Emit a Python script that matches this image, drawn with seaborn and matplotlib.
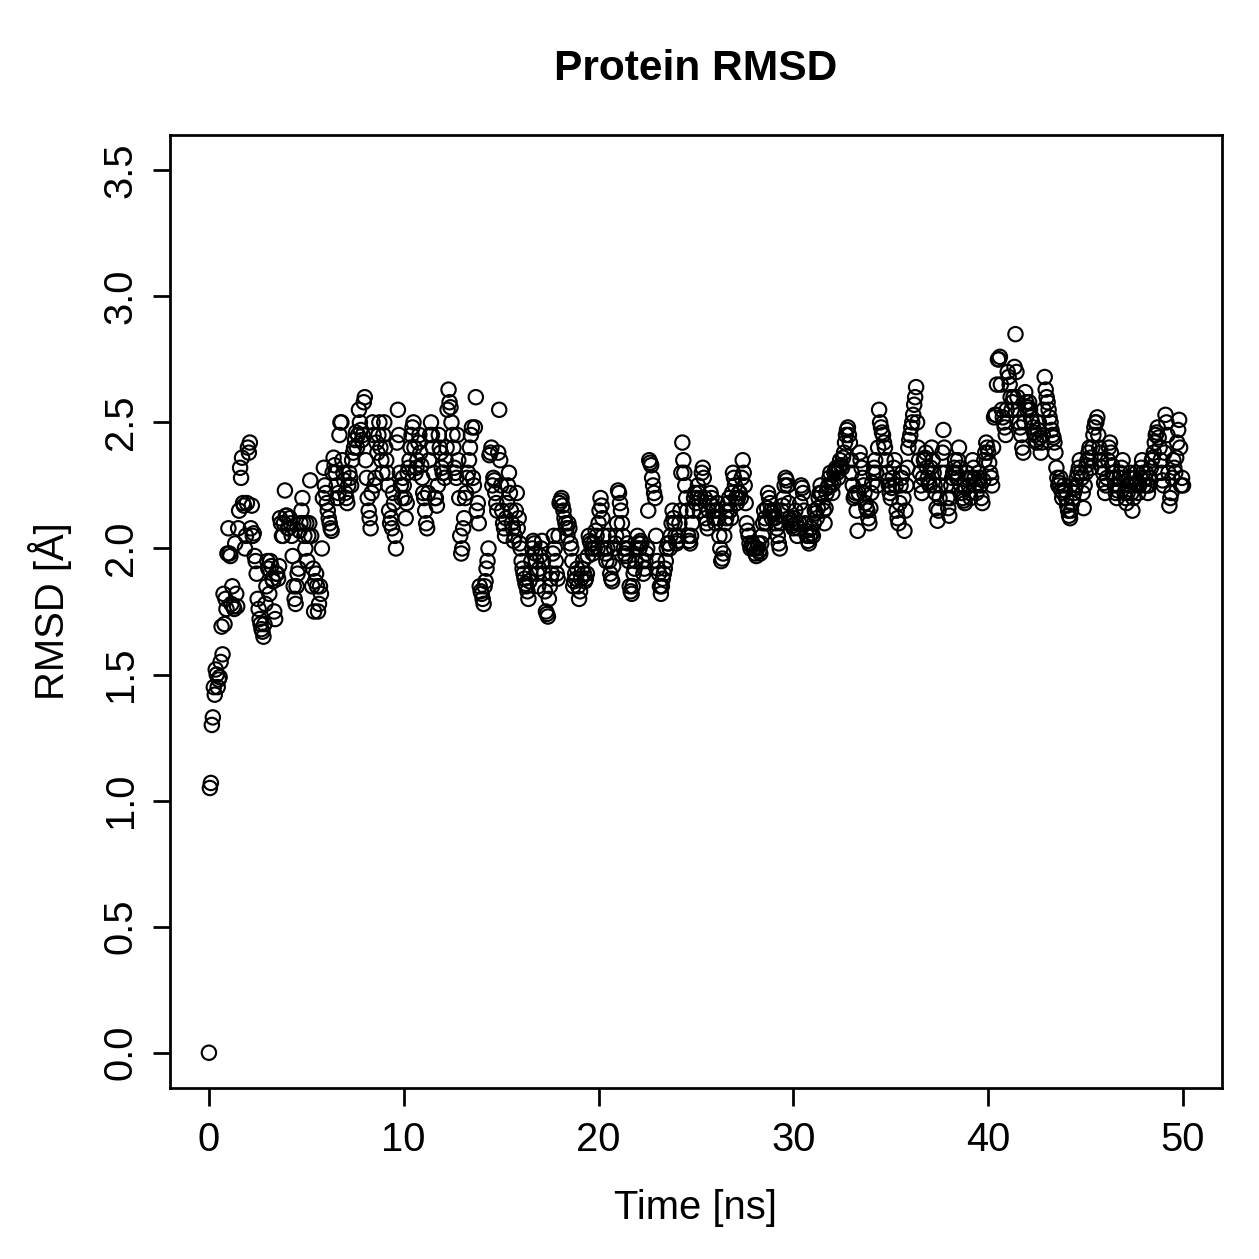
import numpy as np
import pandas as pd
import matplotlib
matplotlib.use("Agg")
import matplotlib.pyplot as plt
import seaborn as sns

# RMSD values, frames at 0.0, 0.1, ... 50.0 ns
rmsd = [
    0.00, 1.07, 1.33, 1.42, 1.50, 1.48, 1.55, 1.58, 1.70, 1.76,
    2.08, 1.97, 1.85, 1.76, 1.82, 2.08, 2.32, 2.36, 2.17, 2.05,
    2.40, 2.42, 2.17, 2.06, 1.95, 1.80, 1.72, 1.68, 1.65, 1.78,
    1.95, 1.82, 1.93, 1.87, 1.72, 1.90, 1.93, 2.10, 2.05, 2.23,
    2.13, 2.08, 2.10, 1.97, 1.80, 1.85, 1.92, 2.10, 2.20, 2.05,
    2.10, 2.05, 2.27, 1.85, 1.75, 1.90, 1.75, 1.85, 2.00, 2.32,
    2.22, 2.15, 2.10, 2.07, 2.36, 2.30, 2.20, 2.45, 2.50, 2.30,
    2.22, 2.18, 2.30, 2.25, 2.38, 2.43, 2.40, 2.55, 2.47, 2.45,
    2.60, 2.28, 2.15, 2.08, 2.50, 2.25, 2.42, 2.45, 2.40, 2.30,
    2.50, 2.35, 2.25, 2.10, 2.08, 2.18, 2.00, 2.55, 2.30, 2.20,
    2.25, 2.12, 2.30, 2.35, 2.45, 2.50, 2.30, 2.35, 2.45, 2.33,
    2.22, 2.15, 2.08, 2.35, 2.50, 2.40, 2.20, 2.17, 2.45, 2.38,
    2.30, 2.28, 2.40, 2.63, 2.56, 2.45, 2.32, 2.28, 2.35, 2.05,
    2.00, 2.12, 2.22, 2.30, 2.40, 2.48, 2.25, 2.60, 2.18, 1.85,
    1.82, 1.78, 1.87, 1.95, 2.37, 2.40, 2.28, 2.22, 2.15, 2.55,
    2.25, 2.10, 2.05, 2.18, 2.30, 2.15, 2.08, 2.05, 2.22, 2.12,
    2.00, 1.92, 1.88, 1.85, 1.80, 1.90, 2.00, 2.02, 1.95, 1.85,
    1.97, 2.03, 1.90, 1.75, 1.73, 1.85, 1.90, 2.05, 1.95, 1.88,
    2.18, 2.20, 2.15, 2.10, 2.05, 2.08, 2.00, 1.85, 1.90, 1.92,
    1.80, 1.88, 1.95, 1.87, 1.90, 2.05, 2.02, 1.98, 2.00, 2.05,
    2.10, 2.20, 2.12, 2.00, 1.95, 2.05, 1.90, 1.87, 2.00, 2.05,
    2.23, 2.18, 2.10, 2.00, 1.97, 2.02, 1.85, 1.82, 1.90, 1.95,
    2.05, 2.00, 2.02, 1.90, 1.95, 2.00, 2.35, 2.33, 2.25, 2.20,
    1.95, 1.90, 1.82, 1.88, 1.92, 2.00, 2.02, 2.05, 2.15, 2.10,
    2.02, 2.05, 2.15, 2.42, 2.30, 2.20, 2.05, 2.02, 2.10, 2.20,
    2.18, 2.25, 2.15, 2.30, 2.28, 2.12, 2.08, 2.18, 2.20, 2.15,
    2.10, 2.18, 2.05, 1.95, 1.98, 2.10, 2.15, 2.20, 2.12, 2.30,
    2.25, 2.18, 2.22, 2.20, 2.35, 2.25, 2.10, 2.05, 2.00, 2.02,
    2.00, 1.97, 2.02, 1.98, 2.05, 2.15, 2.10, 2.22, 2.18, 2.12,
    2.15, 2.10, 2.05, 2.00, 2.15, 2.20, 2.28, 2.25, 2.12, 2.10,
    2.08, 2.15, 2.05, 2.10, 2.25, 2.22, 2.10, 2.05, 2.02, 2.08,
    2.05, 2.15, 2.12, 2.20, 2.25, 2.18, 2.10, 2.22, 2.25, 2.30,
    2.22, 2.30, 2.32, 2.28, 2.35, 2.32, 2.38, 2.45, 2.48, 2.42,
    2.30, 2.20, 2.22, 2.07, 2.38, 2.32, 2.25, 2.18, 2.15, 2.10,
    2.22, 2.30, 2.35, 2.25, 2.55, 2.48, 2.45, 2.40, 2.30, 2.25,
    2.20, 2.28, 2.35, 2.15, 2.10, 2.25, 2.30, 2.07, 2.25, 2.40,
    2.45, 2.50, 2.57, 2.64, 2.40, 2.30, 2.22, 2.35, 2.38, 2.28,
    2.25, 2.40, 2.30, 2.22, 2.11, 2.20, 2.30, 2.47, 2.30, 2.20,
    2.13, 2.25, 2.30, 2.35, 2.28, 2.40, 2.25, 2.20, 2.18, 2.30,
    2.25, 2.20, 2.35, 2.28, 2.22, 2.30, 2.25, 2.18, 2.35, 2.42,
    2.38, 2.30, 2.25, 2.52, 2.53, 2.75, 2.76, 2.55, 2.50, 2.45,
    2.70, 2.65, 2.55, 2.60, 2.85, 2.60, 2.50, 2.45, 2.38, 2.62,
    2.55, 2.58, 2.52, 2.48, 2.45, 2.42, 2.50, 2.38, 2.45, 2.68,
    2.60, 2.55, 2.50, 2.45, 2.42, 2.32, 2.25, 2.28, 2.20, 2.25,
    2.20, 2.15, 2.12, 2.18, 2.22, 2.25, 2.30, 2.35, 2.28, 2.16,
    2.30, 2.35, 2.40, 2.32, 2.45, 2.50, 2.52, 2.40, 2.35, 2.30,
    2.22, 2.28, 2.40, 2.38, 2.30, 2.25, 2.20, 2.25, 2.30, 2.35,
    2.22, 2.18, 2.25, 2.30, 2.15, 2.25, 2.30, 2.22, 2.28, 2.35,
    2.25, 2.30, 2.22, 2.28, 2.35, 2.38, 2.45, 2.48, 2.40, 2.30,
    2.25, 2.53, 2.45, 2.17, 2.22, 2.35, 2.30, 2.42, 2.51, 2.25,
    2.25,
]

# in-between frames at 0.05, 0.15, ... 49.95 ns
rmsd_half = [
    1.05, 1.30, 1.45, 1.52, 1.45, 1.49, 1.69, 1.82, 1.80, 1.98,
    1.98, 1.78, 1.77, 2.02, 1.77, 2.15, 2.28, 2.18, 2.00, 2.18,
    2.38, 2.08, 2.05, 1.97, 1.90, 1.76, 1.70, 1.67, 1.70, 1.85,
    1.92, 1.95, 1.88, 1.75, 1.90, 1.88, 2.12, 2.05, 2.10, 2.13,
    2.08, 2.12, 2.05, 1.85, 1.78, 1.90, 2.07, 2.15, 2.10, 2.00,
    1.95, 2.10, 2.05, 1.92, 1.87, 1.85, 1.78, 1.82, 2.20, 2.25,
    2.18, 2.12, 2.08, 2.30, 2.33, 2.25, 2.22, 2.50, 2.35, 2.27,
    2.20, 2.25, 2.28, 2.35, 2.40, 2.46, 2.45, 2.50, 2.43, 2.58,
    2.35, 2.20, 2.12, 2.22, 2.45, 2.28, 2.38, 2.50, 2.35, 2.45,
    2.40, 2.30, 2.15, 2.12, 2.22, 2.05, 2.42, 2.45, 2.25, 2.28,
    2.20, 2.18, 2.32, 2.40, 2.48, 2.40, 2.32, 2.42, 2.38, 2.28,
    2.20, 2.10, 2.22, 2.45, 2.45, 2.30, 2.20, 2.25, 2.40, 2.32,
    2.30, 2.35, 2.55, 2.58, 2.50, 2.40, 2.30, 2.45, 2.20, 1.98,
    2.08, 2.20, 2.28, 2.35, 2.45, 2.28, 2.48, 2.15, 2.10, 1.83,
    1.80, 1.85, 1.92, 2.00, 2.38, 2.25, 2.27, 2.18, 2.38, 2.35,
    2.15, 2.08, 2.12, 2.25, 2.22, 2.10, 2.03, 2.15, 2.08, 2.02,
    1.95, 1.90, 1.86, 1.83, 1.87, 1.95, 2.03, 1.98, 1.90, 1.92,
    2.00, 1.95, 1.83, 1.74, 1.80, 1.88, 1.98, 2.00, 1.90, 2.05,
    2.19, 2.17, 2.12, 2.08, 2.10, 2.02, 1.95, 1.87, 1.88, 1.85,
    1.83, 1.92, 1.90, 1.88, 1.97, 2.03, 2.00, 2.02, 2.07, 2.00,
    2.15, 2.17, 2.05, 1.98, 2.00, 1.95, 1.88, 1.93, 2.02, 2.10,
    2.22, 2.15, 2.05, 1.98, 2.00, 1.95, 1.83, 1.85, 1.92, 2.00,
    2.02, 2.03, 1.95, 1.92, 1.98, 2.15, 2.34, 2.28, 2.22, 2.05,
    1.92, 1.85, 1.85, 1.90, 1.95, 2.02, 2.00, 2.10, 2.12, 2.05,
    2.03, 2.10, 2.30, 2.35, 2.25, 2.15, 2.03, 2.05, 2.15, 2.22,
    2.20, 2.22, 2.20, 2.32, 2.20, 2.10, 2.15, 2.22, 2.17, 2.12,
    2.15, 2.12, 2.00, 1.96, 2.05, 2.12, 2.18, 2.15, 2.22, 2.28,
    2.20, 2.20, 2.22, 2.28, 2.30, 2.18, 2.07, 2.02, 2.01, 2.00,
    1.98, 2.00, 1.99, 2.02, 2.10, 2.12, 2.16, 2.20, 2.15, 2.14,
    2.12, 2.08, 2.02, 2.10, 2.17, 2.25, 2.27, 2.18, 2.11, 2.09,
    2.12, 2.10, 2.08, 2.18, 2.24, 2.15, 2.07, 2.03, 2.05, 2.06,
    2.10, 2.14, 2.16, 2.22, 2.22, 2.15, 2.16, 2.24, 2.28, 2.25,
    2.26, 2.31, 2.30, 2.32, 2.33, 2.36, 2.42, 2.47, 2.45, 2.35,
    2.25, 2.21, 2.15, 2.22, 2.35, 2.28, 2.22, 2.16, 2.12, 2.16,
    2.26, 2.32, 2.30, 2.40, 2.50, 2.46, 2.42, 2.35, 2.27, 2.22,
    2.24, 2.32, 2.25, 2.12, 2.18, 2.28, 2.20, 2.15, 2.32, 2.43,
    2.48, 2.53, 2.60, 2.50, 2.35, 2.25, 2.28, 2.36, 2.32, 2.26,
    2.32, 2.35, 2.25, 2.16, 2.15, 2.25, 2.38, 2.40, 2.25, 2.16,
    2.20, 2.28, 2.32, 2.30, 2.35, 2.32, 2.22, 2.19, 2.24, 2.28,
    2.22, 2.28, 2.32, 2.25, 2.26, 2.28, 2.20, 2.27, 2.38, 2.40,
    2.34, 2.28, 2.40, 2.53, 2.65, 2.75, 2.65, 2.52, 2.48, 2.55,
    2.68, 2.60, 2.58, 2.72, 2.70, 2.55, 2.48, 2.40, 2.50, 2.58,
    2.56, 2.55, 2.50, 2.46, 2.43, 2.47, 2.44, 2.42, 2.55, 2.63,
    2.58, 2.52, 2.47, 2.44, 2.38, 2.28, 2.26, 2.23, 2.22, 2.23,
    2.17, 2.13, 2.15, 2.20, 2.24, 2.28, 2.32, 2.30, 2.22, 2.25,
    2.33, 2.38, 2.36, 2.40, 2.48, 2.50, 2.45, 2.38, 2.32, 2.26,
    2.25, 2.35, 2.42, 2.33, 2.28, 2.22, 2.23, 2.28, 2.32, 2.28,
    2.20, 2.22, 2.28, 2.22, 2.20, 2.28, 2.26, 2.25, 2.32, 2.30,
    2.28, 2.25, 2.25, 2.32, 2.36, 2.42, 2.46, 2.44, 2.35, 2.27,
    2.38, 2.50, 2.30, 2.20, 2.28, 2.32, 2.36, 2.47, 2.40, 2.28,
]

x_ticks = [0, 10, 20, 30, 40, 50]
y_ticks = [0.0, 0.5, 1.0, 1.5, 2.0, 2.5, 3.0, 3.5]

time_ns = np.concatenate([np.arange(len(rmsd)) * 0.1,
                          np.arange(len(rmsd_half)) * 0.1 + 0.05])
df = pd.DataFrame({"time": time_ns, "rmsd": rmsd + rmsd_half})
df = df.sort_values("time")

sns.set_style("ticks")
plt.rcParams["font.family"] = ["Liberation Sans", "DejaVu Sans"]

fig = plt.figure(figsize=(1259 / 180, 1259 / 180), dpi=180)
ax = fig.add_axes([0.135, 0.1358, 0.8356, 0.757])

sns.scatterplot(data=df, x="time", y="rmsd", ax=ax, marker="o", s=33,
                facecolors="none", edgecolor="black", linewidth=0.85)

ax.set_xlim(-2, 52)
ax.set_ylim(-0.14, 3.64)
ax.set_xticks(x_ticks)
ax.set_xticklabels([str(t) for t in x_ticks])
ax.set_yticks(y_ticks)
ax.set_yticklabels([f"{v:.1f}" for v in y_ticks], rotation=90, va="center")
ax.tick_params(axis="both", direction="out", length=7, width=1.1,
               labelsize=16, color="black", labelcolor="black")
ax.tick_params(axis="x", pad=6)
ax.tick_params(axis="y", pad=5)
for sp in ax.spines.values():
    sp.set_visible(True)
    sp.set_linewidth(1.1)
    sp.set_color("black")

ax.set_xlabel("Time [ns]", fontsize=16, color="black", labelpad=12)
ax.set_ylabel("RMSD [Å]", fontsize=16, color="black", labelpad=12)
fig.text(0.5528, 0.945, "Protein RMSD", fontsize=17, fontweight="bold",
         color="black", ha="center", va="center")

fig.savefig("out.png", dpi=180)
